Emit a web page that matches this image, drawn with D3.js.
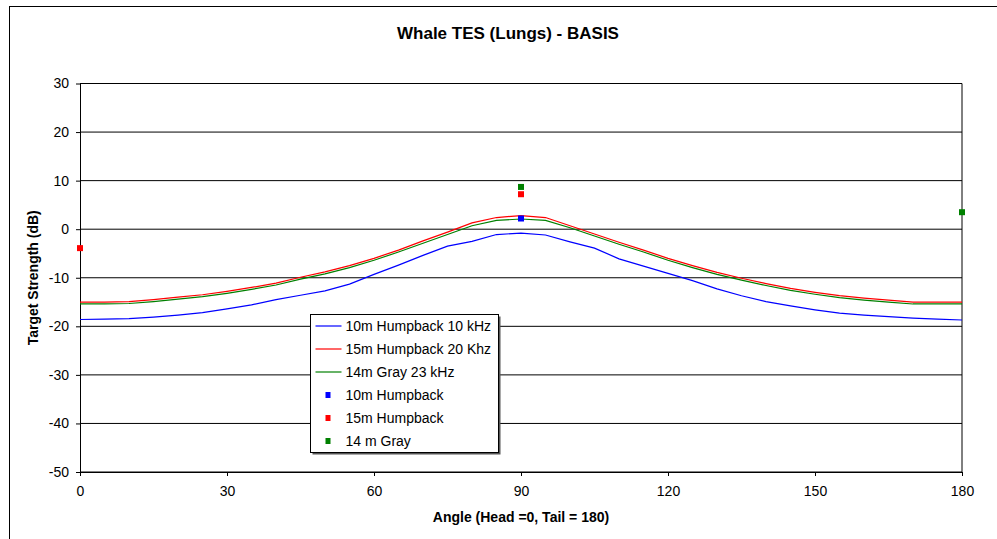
<!DOCTYPE html>
<html>
<head>
<meta charset="utf-8">
<script src="https://cdn.jsdelivr.net/npm/d3@7"></script>
<style>
  body { margin: 0; background: #fff; }
  svg { display: block; font-family: "Liberation Sans", Arial, sans-serif; }
  .axis path { stroke: #000; }
  .axis line { stroke: #000; }
  .axis text { font-size: 14px; fill: #000; }
</style>
</head>
<body>
<svg id="chart" width="997" height="539"></svg>
<script>
'use strict';

var WIDTH = 997;
var HEIGHT = 539;

// angles of the three curves (deg)
var angles = [0, 5, 10, 15, 20, 25, 30, 35, 40, 45, 50, 55, 60, 65, 70, 75, 80, 85, 90,
  95, 100, 105, 110, 115, 120, 125, 130, 135, 140, 145, 150, 155, 160, 165, 170, 175, 180];

var humpback10Line = [-18.6, -18.5, -18.4, -18.1, -17.7, -17.2, -16.4, -15.6, -14.5, -13.6,
  -12.7, -11.3, -9.3, -7.4, -5.4, -3.5, -2.5, -1.1, -0.8, -1.2, -2.6, -3.9, -6.1, -7.6,
  -9.1, -10.6, -12.3, -13.7, -14.9, -15.8, -16.6, -17.3, -17.7, -18.0, -18.3, -18.5, -18.7];

var humpback15Line = [-15.0, -15.0, -14.9, -14.5, -14.0, -13.5, -12.8, -12.0, -11.1, -9.9,
  -8.8, -7.5, -6.0, -4.3, -2.4, -0.6, 1.3, 2.4, 2.8, 2.4, 0.7, -1.0, -2.7, -4.3,
  -6.0, -7.5, -8.9, -10.1, -11.2, -12.2, -13.0, -13.7, -14.2, -14.6, -15.0, -15.0, -15.0];

var gray14Line = [-15.4, -15.4, -15.3, -14.9, -14.4, -13.9, -13.2, -12.4, -11.5, -10.3,
  -9.2, -7.9, -6.4, -4.7, -2.9, -1.1, 0.7, 1.8, 2.1, 1.8, 0.3, -1.4, -3.1, -4.7,
  -6.4, -7.9, -9.3, -10.5, -11.6, -12.6, -13.4, -14.1, -14.6, -15.0, -15.4, -15.4, -15.4];

// measured points [angle, dB]
var humpback10Pts = [[90, 2.2]];
var humpback15Pts = [[0, -3.9], [90, 7.2]];
var gray14Pts = [[90, 8.7], [180, 3.5]];

var xTicks = [0, 30, 60, 90, 120, 150, 180];
var yTicks = [-50, -40, -30, -20, -10, 0, 10, 20, 30];

var lineSeries = [
  {name: "10m Humpback 10 kHz", values: humpback10Line, color: "#0000ff"},
  {name: "15m Humpback 20 Khz", values: humpback15Line, color: "#ff0000"},
  {name: "14m Gray 23 kHz", values: gray14Line, color: "#008000"}
];
var pointSeries = [
  {name: "10m Humpback", values: humpback10Pts, color: "#0000ff"},
  {name: "15m Humpback", values: humpback15Pts, color: "#ff0000"},
  {name: "14 m Gray", values: gray14Pts, color: "#008000"}
];

var x = d3.scaleLinear().domain([0, 180]).range([80, 962]);
var y = d3.scaleLinear().domain([-50, 30]).range([472, 83.5]);

// plain hyphen for negatives, like the original
var plain = function(d){ return String(d); };

var svg = d3.select("#chart");

// outer chart frame
svg.append("rect")
.attr("x", 9.5).attr("y", 6.5)
.attr("width", 1000).attr("height", 600)
.attr("fill", "#fff").attr("stroke", "#000").attr("stroke-width", 1);

svg.append("text")
.attr("x", 508).attr("y", 39)
.attr("text-anchor", "middle")
.attr("font-size", 17).attr("font-weight", "bold")
.text("Whale TES (Lungs) - BASIS");

// grid
svg.append("g")
.selectAll("line")
.data(yTicks)
.enter().append("line")
.attr("x1", x(0)).attr("x2", x(180))
.attr("y1", function(d){ return y(d); })
.attr("y2", function(d){ return y(d); })
.attr("stroke", "#000").attr("stroke-width", 1);

svg.append("line")
.attr("x1", x(180)).attr("x2", x(180))
.attr("y1", y(30)).attr("y2", y(-50))
.attr("stroke", "#000");

svg.append("g")
.attr("class", "axis")
.attr("transform", "translate(" + x(0) + ",0)")
.call(d3.axisLeft(y).tickValues(yTicks).tickFormat(plain).tickSize(4).tickPadding(7).tickSizeOuter(0));

svg.append("g")
.attr("class", "axis")
.attr("transform", "translate(0," + y(-50) + ")")
.call(d3.axisBottom(x).tickValues(xTicks).tickFormat(plain).tickSize(4).tickPadding(10).tickSizeOuter(0));

svg.append("text")
.attr("x", (x(0) + x(180)) / 2).attr("y", 522)
.attr("text-anchor", "middle")
.attr("font-size", 14).attr("font-weight", "bold")
.text("Angle (Head =0, Tail = 180)");

svg.append("text")
.attr("transform", "translate(38," + ((y(30) + y(-50)) / 2) + ") rotate(-90)")
.attr("text-anchor", "middle")
.attr("font-size", 14).attr("font-weight", "bold")
.text("Target Strength (dB)");

var line = d3.line()
.x(function(d, i){ return x(angles[i]); })
.y(function(d){ return y(d); });

svg.append("g")
.selectAll("path")
.data(lineSeries)
.enter().append("path")
.attr("d", function(s){ return line(s.values); })
.attr("fill", "none")
.attr("stroke", function(s){ return s.color; })
.attr("stroke-width", 1.2);

pointSeries.forEach(function(s){
  svg.append("g")
  .selectAll("rect")
  .data(s.values)
  .enter().append("rect")
  .attr("x", function(d){ return x(d[0]) - 3; })
  .attr("y", function(d){ return y(d[1]) - 3; })
  .attr("width", 6).attr("height", 6)
  .attr("fill", s.color);
});

// legend
var legend = svg.append("g").attr("transform", "translate(310.5,314.5)");
legend.append("rect")
.attr("x", 2).attr("y", 2).attr("width", 188).attr("height", 138)
.attr("fill", "#555");
legend.append("rect")
.attr("width", 188).attr("height", 138)
.attr("fill", "#fff").attr("stroke", "#000");

var rowH = 23;
lineSeries.forEach(function(s, i){
  var cy = 11.5 + i * rowH;
  legend.append("line")
  .attr("x1", 5).attr("x2", 31).attr("y1", cy).attr("y2", cy)
  .attr("stroke", s.color).attr("stroke-width", 1.2);
  legend.append("text")
  .attr("x", 35).attr("y", cy).attr("dy", "0.35em")
  .attr("font-size", 14).text(s.name);
});
pointSeries.forEach(function(s, i){
  var cy = 11.5 + (i + 3) * rowH;
  legend.append("rect")
  .attr("x", 15).attr("y", cy - 3).attr("width", 5).attr("height", 6)
  .attr("fill", s.color);
  legend.append("text")
  .attr("x", 35).attr("y", cy).attr("dy", "0.35em")
  .attr("font-size", 14).text(s.name);
});
</script>
</body>
</html>
